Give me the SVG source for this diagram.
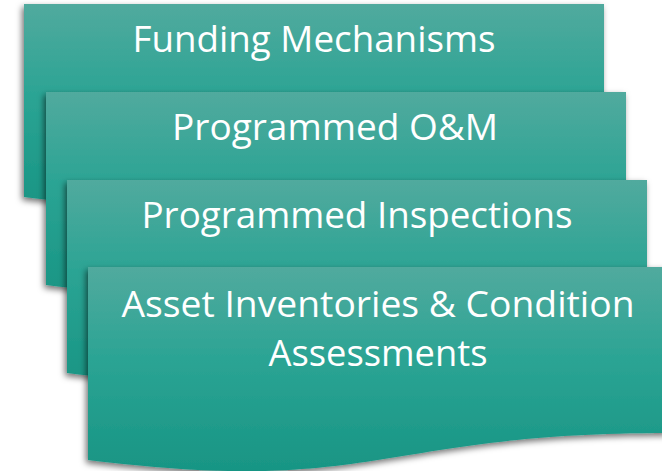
<svg xmlns="http://www.w3.org/2000/svg" width="662" height="471" viewBox="0 0 662 471">
<defs>
<linearGradient id="g" x1="0" y1="0" x2="0" y2="1">
<stop offset="0" stop-color="#51AA9E"/>
<stop offset="0.45" stop-color="#2BA494"/>
<stop offset="1" stop-color="#189584"/>
</linearGradient>
<filter id="sh" x="-10%" y="-10%" width="120%" height="125%">
<feDropShadow dx="-2" dy="3" stdDeviation="3" flood-color="#000" flood-opacity="0.55"/>
</filter>
<path id="doc" d="M0,0 H580 V166 C290,166 290,229 0,193 Z"/>
</defs>
<style>
.box{fill:url(#g);filter:url(#sh)}
.t{font-family:"Open Sans","Liberation Sans",sans-serif;font-size:36px;fill:#fff;text-anchor:middle}
</style>
<g id="connectors"/>
<g id="n1">
<use href="#doc" class="box" x="24" y="4"/>
<text class="t" x="314" y="52" textLength="363" lengthAdjust="spacingAndGlyphs">Funding Mechanisms</text>
</g>
<g id="n2">
<use href="#doc" class="box" x="46" y="92"/>
<text class="t" x="335" y="140" textLength="326" lengthAdjust="spacingAndGlyphs">Programmed O&amp;M</text>
</g>
<g id="n3">
<use href="#doc" class="box" x="67" y="180"/>
<text class="t" x="357" y="228" textLength="431" lengthAdjust="spacingAndGlyphs">Programmed Inspections</text>
</g>
<g id="n4">
<use href="#doc" class="box" x="88" y="267"/>
<text class="t" x="378" y="317" textLength="513" lengthAdjust="spacingAndGlyphs">Asset Inventories &amp; Condition</text>
<text class="t" x="378" y="366" textLength="219" lengthAdjust="spacingAndGlyphs">Assessments</text>
</g>
</svg>
